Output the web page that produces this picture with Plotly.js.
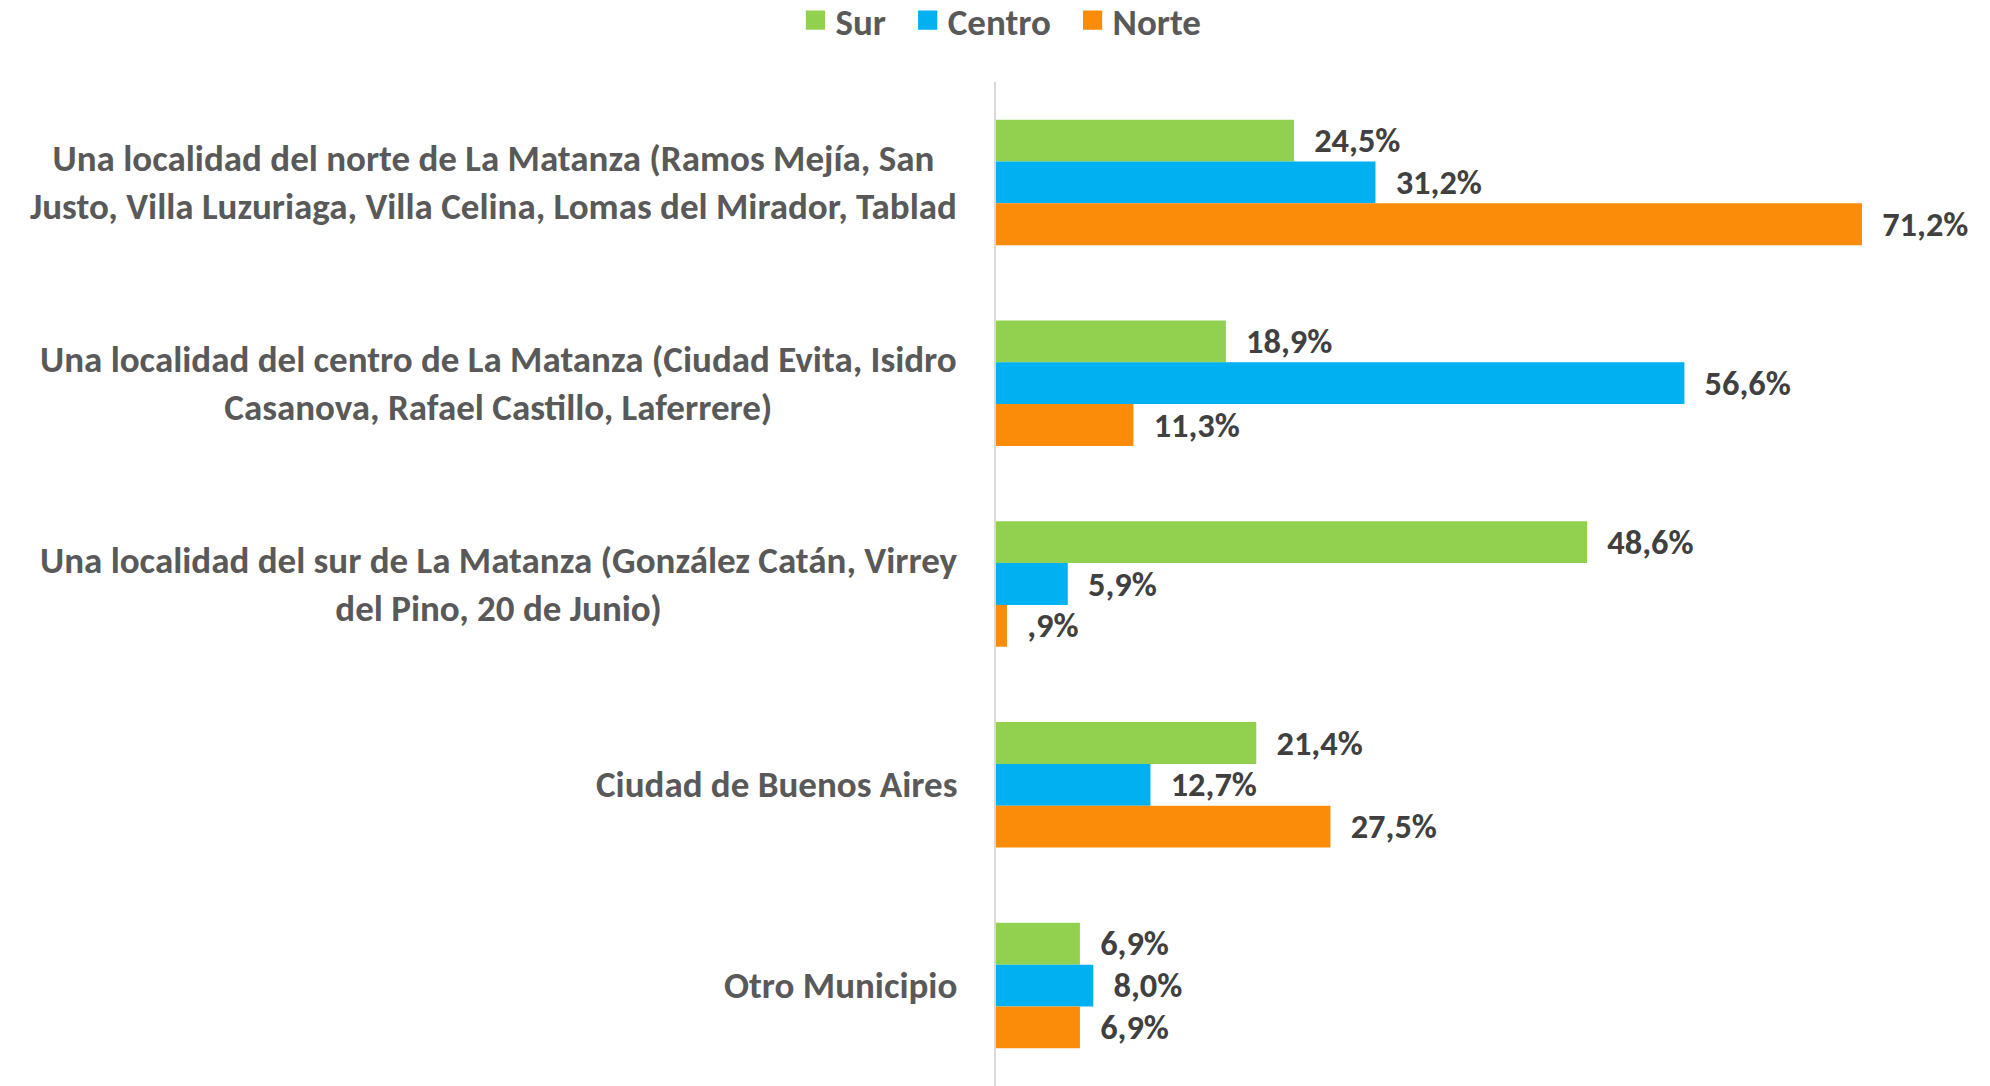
<!DOCTYPE html>
<html>
<head>
<meta charset="utf-8">
<script src="https://cdn.plot.ly/plotly-3.0.1.min.js"></script>
<style>html,body{margin:0;padding:0;background:#fff;}#chart{width:1990px;height:1086px;}</style>
</head>
<body>
<div id="chart"></div>
<script>
const categories = [
  "Una localidad del norte de La Matanza (Ramos Mejía, San<br>Justo, Villa Luzuriaga, Villa Celina, Lomas del Mirador, Tablad",
  "Una localidad del centro de La Matanza (Ciudad Evita, Isidro<br>Casanova, Rafael Castillo, Laferrere)",
  "Una localidad del sur de La Matanza (González Catán, Virrey<br>del Pino, 20 de Junio)",
  "Ciudad de Buenos Aires",
  "Otro Municipio"
];
const seriesNames = ["Sur", "Centro", "Norte"];
const sur = [24.5, 18.9, 48.6, 21.4, 6.9];
const centro = [31.2, 56.6, 5.9, 12.7, 8.0];
const norte = [71.2, 11.3, 0.9, 27.5, 6.9];
const colors = ["#92D050", "#00B0F0", "#FA8C0A"];

const FONT = "Carlito, 'Liberation Sans Narrow', 'Open Sans', sans-serif";
function fmt(v) {
  return "\u2002" + v.toFixed(1).replace(".", ",").replace(/^0/, "") + "%";
}
const values = [sur, centro, norte];
const traces = values.map((vals, i) => ({
  type: "bar",
  orientation: "h",
  name: seriesNames[i] + (i < seriesNames.length - 1 ? "\u00a0\u00a0" : ""),
  x: vals,
  y: categories,
  marker: {color: colors[i]},
  text: vals.map(fmt),
  textposition: "outside",
  cliponaxis: false,
  textfont: {family: FONT, size: 37, color: "#404040", weight: 700},
  hoverinfo: "x+name"
}));

const annotations = categories.map(c => ({
  xref: "paper", yref: "y", x: 0, y: c,
  xanchor: "right", yanchor: "middle", xshift: -37,
  align: "center", showarrow: false, text: c,
  font: {family: FONT, size: 37, color: "#595959", weight: 700}
}));

const layout = {
  width: 1990, height: 1086,
  margin: {l: 996, r: 21, t: 82, b: 0, pad: 0},
  paper_bgcolor: "#fff", plot_bgcolor: "#fff",
  barmode: "group", bargap: 0.375, bargroupgap: 0,
  showlegend: true,
  legend: {
    orientation: "h", xref: "container", yref: "container",
    x: 0.503, y: 0.981, xanchor: "center", yanchor: "middle",
    font: {family: FONT, size: 37, color: "#595959", weight: 700},
    itemclick: false
  },
  xaxis: {range: [0, 80], showgrid: false, zeroline: false, showticklabels: false, showline: false, fixedrange: true},
  yaxis: {autorange: "reversed", showticklabels: false, showgrid: false, zeroline: false,
          showline: true, linecolor: "#d9d9d9", linewidth: 2, ticks: "", fixedrange: true},
  annotations: annotations,
  font: {family: FONT}
};

Plotly.newPlot("chart", traces, layout, {displayModeBar: false, staticPlot: true}).then(() => {
  document.querySelectorAll("#chart .legendpoints path").forEach(p => {
    const t = p.getAttribute("transform") || "";
    p.setAttribute("transform", t + " scale(1.6)");
  });
});
</script>
</body>
</html>
